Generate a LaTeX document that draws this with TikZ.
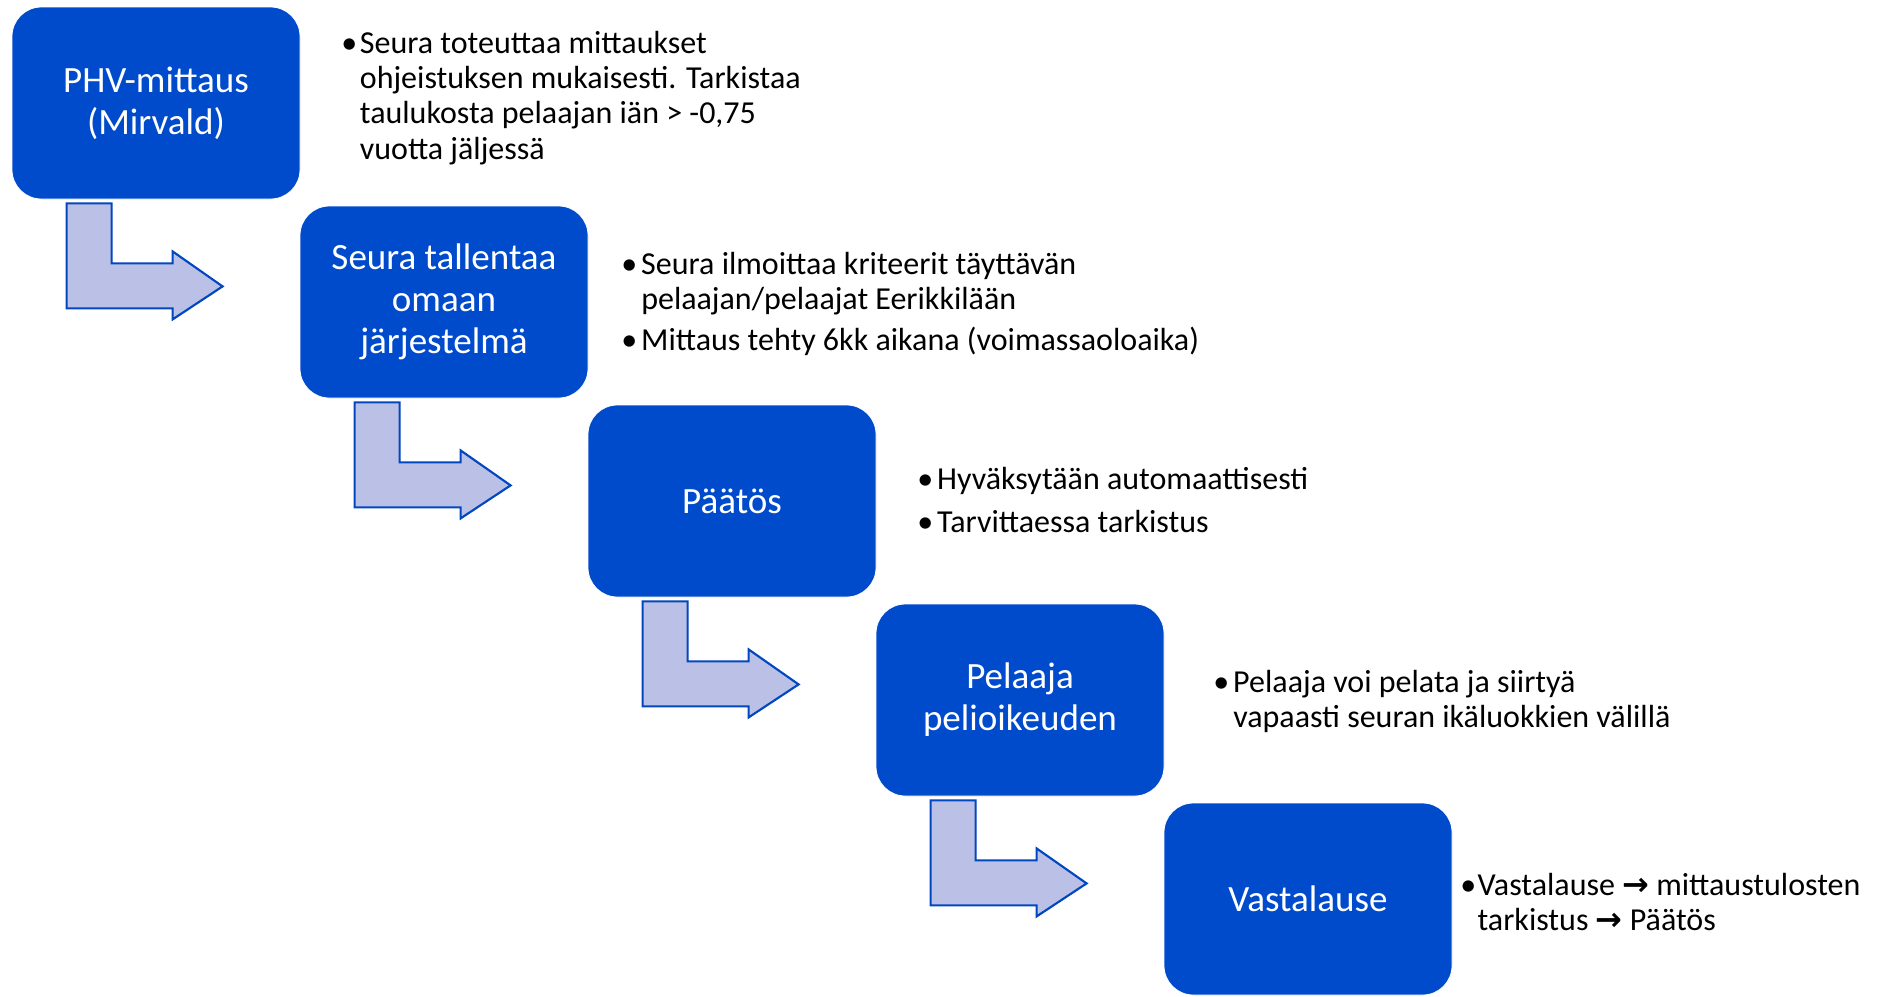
\documentclass[tikz,border=0pt]{standalone}
\usepackage{fontspec}
\setmainfont{Carlito}
\newfontfamily\symfont{DejaVu Sans}
\definecolor{boxblue}{RGB}{0,75,204}
\definecolor{arrowfill}{RGB}{187,193,230}
\definecolor{arrowline}{RGB}{0,71,192}
\newcommand{\ra}{{\symfont\bfseries\char"2192}}
\begin{document}
\begin{tikzpicture}[x=0.75pt,y=-0.75pt,
  stepbox/.style={fill=boxblue, draw=white, line width=0.6pt, rounded corners=22pt,
    minimum width=216pt, minimum height=144pt, text=white, align=center,
    font=\fontsize{27.8pt}{31.5pt}\selectfont, inner sep=0pt},
  txt/.style={anchor=base west, inner sep=0pt, text=black,
    font=\fontsize{24pt}{26.5pt}\selectfont},
  bent/.style={fill=arrowfill, draw=arrowline, line width=1.6pt, line join=miter}]
\useasboundingbox (0,0) rectangle (1881,996);

\node[stepbox] (b1) at (156,103) {PHV-mittaus\\(Mirvald)};
\node[stepbox] (b2) at (444,302) {Seura tallentaa\\omaan\\järjestelmä};
\node[stepbox] (b3) at (732,501) {Päätös};
\node[stepbox] (b4) at (1020,700) {Pelaaja\\pelioikeuden};
\node[stepbox] (b5) at (1308,899) {Vastalause};

\foreach \b in {b1,b2,b3,b4}{
  \draw[bent] ([shift={(55,4)}]\b.south west) -- ++(0,105) -- ++(106,0) -- ++(0,11)
    -- ++(50,-33) -- ++(-50,-35) -- ++(0,12) -- ++(-61,0) -- ++(0,-60) -- cycle;
}

\node[txt] (t1) at (341,53) {\begin{tabular}[t]{@{}p{14pt}@{}l@{}}
•& Seura toteuttaa mittaukset\\
 & ohjeistuksen mukaisesti. Tarkistaa\\
 & taulukosta pelaajan iän > -0,75\\
 & vuotta jäljessä
\end{tabular}};

\node[txt] (t2) at (621,274) {\begin{tabular}[t]{@{}p{15pt}@{}l@{}}
•& Seura ilmoittaa kriteerit täyttävän\\
 & pelaajan/pelaajat Eerikkilään\\[4pt]
•& Mittaus tehty 6kk aikana (voimassaoloaika)
\end{tabular}};

\node[txt] (t3) at (917,489) {\begin{tabular}[t]{@{}p{15pt}@{}l@{}}
•& Hyväksytään automaattisesti\\[6pt]
•& Tarvittaessa tarkistus
\end{tabular}};

\node[txt] (t4) at (1213,692) {\begin{tabular}[t]{@{}p{15pt}@{}l@{}}
•& Pelaaja voi pelata ja siirtyä\\
 & vapaasti seuran ikäluokkien välillä
\end{tabular}};

\node[txt] (t5) at (1460,895) {\begin{tabular}[t]{@{}p{13pt}@{}l@{}}
•& Vastalause \ra{} mittaustulosten\\
 & tarkistus \ra{} Päätös
\end{tabular}};
\end{tikzpicture}
\end{document}
